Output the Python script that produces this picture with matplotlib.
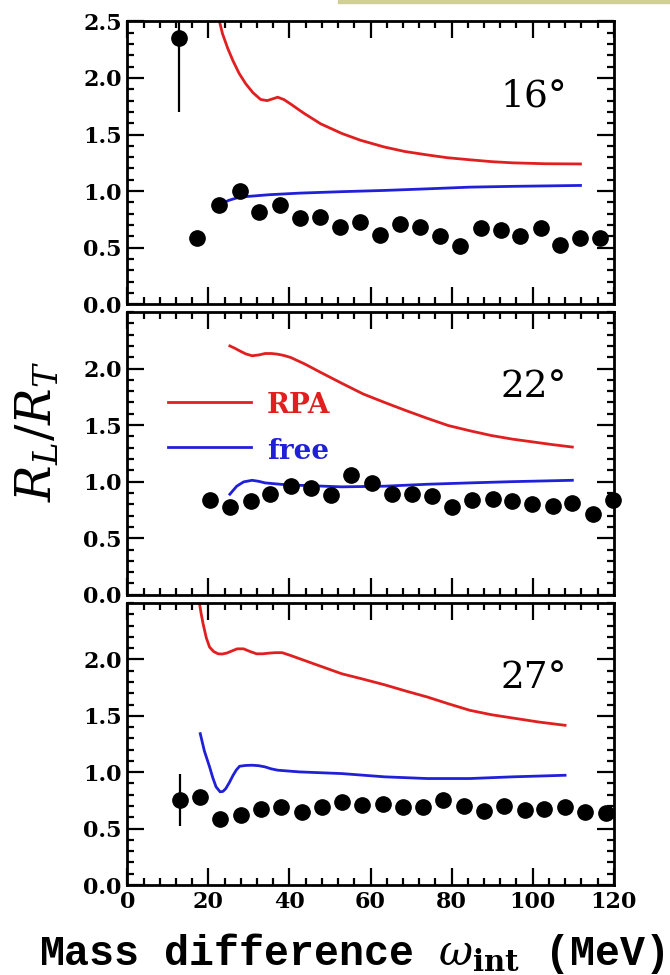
import matplotlib.pyplot as plt
import numpy as np
from matplotlib.ticker import MultipleLocator
from matplotlib.patches import Rectangle

# data points (omega in MeV, R_L/R_T)
x16 = [12.7, 17.3, 22.6, 27.7, 32.5, 37.6, 42.6, 47.5, 52.5, 57.4, 62.4, 67.3,
       72.3, 77.1, 82.0, 87.2, 92.1, 96.9, 102.0, 106.8, 111.7, 116.6]
y16 = [2.35, 0.585, 0.874, 1.00, 0.815, 0.877, 0.762, 0.771, 0.683, 0.727, 0.615, 0.712,
       0.683, 0.60, 0.512, 0.677, 0.653, 0.603, 0.677, 0.527, 0.589, 0.589]
err16 = [0.65] + [0] * 21

x22 = [20.3, 25.3, 30.4, 35.2, 40.3, 45.3, 50.3, 55.2, 60.3, 65.3, 70.3, 75.2,
       80.1, 85.1, 90.1, 95.0, 99.9, 105.0, 109.8, 114.8, 119.8]
y22 = [0.836, 0.772, 0.827, 0.889, 0.96, 0.948, 0.886, 1.056, 0.992, 0.895, 0.889, 0.871,
       0.778, 0.842, 0.851, 0.827, 0.801, 0.786, 0.813, 0.710, 0.836]

x27 = [12.9, 18.0, 22.9, 28.0, 32.9, 38.0, 43.0, 48.1, 52.9, 58.0, 63.0, 67.9,
       72.9, 78.0, 83.0, 88.0, 92.9, 98.0, 102.9, 108.0, 112.9, 118.0]
y27 = [0.752, 0.782, 0.581, 0.625, 0.673, 0.693, 0.649, 0.693, 0.732, 0.708, 0.717, 0.693,
       0.693, 0.758, 0.699, 0.658, 0.699, 0.664, 0.678, 0.693, 0.649, 0.640]
err27 = [0.23] + [0] * 21

# RPA curves
rpa16_x = [22.6, 23.5, 24.8, 26.1, 27.6, 29.2, 31.0, 32.9, 34.5, 35.8, 37.1, 38.6, 40.3, 43.5,
           47.7, 52.9, 57.5, 63.4, 68.5, 74.0, 79.0, 84.5, 90.0, 95.0, 103.0, 111.8]
rpa16_y = [2.52, 2.39, 2.26, 2.15, 2.04, 1.95, 1.87, 1.81, 1.80, 1.815, 1.83, 1.81, 1.77, 1.69,
           1.595, 1.51, 1.45, 1.39, 1.35, 1.32, 1.295, 1.277, 1.26, 1.25, 1.242, 1.24]
rpa22_x = [25.3, 26.5, 27.7, 29.2, 30.8, 32.4, 34.0, 35.6, 37.1, 38.7, 40.3, 43.8, 47.7, 52.9,
           58.2, 63.5, 68.7, 74.0, 79.2, 84.5, 89.8, 95.0, 100.3, 105.0, 109.8]
rpa22_y = [2.20, 2.18, 2.157, 2.13, 2.113, 2.12, 2.133, 2.133, 2.127, 2.115, 2.098, 2.04, 1.966,
           1.87, 1.775, 1.70, 1.629, 1.56, 1.496, 1.45, 1.408, 1.376, 1.35, 1.327, 1.306]
rpa27_x = [17.7, 18.2, 18.7, 19.5, 20.3, 21.3, 22.4, 23.4, 24.5, 25.8, 27.1, 28.7, 30.3, 31.9,
           33.4, 35.0, 36.6, 38.2, 40.3, 46.5, 52.9, 58.2, 63.4, 68.7, 74.0, 79.2, 84.5, 89.8,
           95.0, 101.5, 108.0]
rpa27_y = [2.52, 2.41, 2.316, 2.19, 2.109, 2.07, 2.05, 2.048, 2.056, 2.075, 2.094, 2.094, 2.07,
           2.05, 2.05, 2.056, 2.06, 2.06, 2.035, 1.955, 1.873, 1.825, 1.776, 1.72, 1.667, 1.607,
           1.549, 1.51, 1.481, 1.445, 1.416]

# free curves
free16_x = [22.6, 25.0, 27.7, 35.0, 42.4, 52.9, 63.5, 74.0, 84.5, 95.0, 111.8]
free16_y = [0.874, 0.918, 0.947, 0.968, 0.982, 0.995, 1.006, 1.02, 1.035, 1.042, 1.05]
free22_x = [25.3, 27.0, 28.7, 30.8, 32.4, 34.0, 38.0, 42.4, 52.9, 63.5, 74.0, 84.5, 95.0, 109.8]
free22_y = [0.889, 0.96, 0.998, 1.012, 1.003, 0.989, 0.976, 0.968, 0.954, 0.96, 0.977, 0.989,
            1.0, 1.012]
free27_x = [18.0, 19.0, 20.3, 21.1, 21.9, 22.9, 23.6, 24.3, 25.2, 26.1, 26.9, 27.7, 29.2, 30.8,
            32.4, 34.0, 35.5, 37.1, 42.4, 52.9, 63.5, 74.0, 84.5, 95.0, 108.0]
free27_y = [1.342, 1.19, 1.047, 0.95, 0.870, 0.826, 0.83, 0.855, 0.91, 0.973, 1.02, 1.053, 1.06,
            1.062, 1.058, 1.047, 1.03, 1.018, 1.003, 0.988, 0.959, 0.944, 0.944, 0.959, 0.973]

angles = ['16°', '22°', '27°']

red = '#e02020'
blue = '#2020d8'
serif = 'DejaVu Serif'

fig = plt.figure(figsize=(6.7, 9.75), dpi=100)
fig.patches.append(Rectangle((0.505, 0.997), 0.495, 0.003, transform=fig.transFigure,
                             color='#cfcf96', zorder=0))

boxes = [(0.688, 0.978), (0.390, 0.680), (0.0923, 0.3815)]
left, right = 0.19, 0.916

panels = [
    (x16, y16, err16, rpa16_x, rpa16_y, free16_x, free16_y),
    (x22, y22, None, rpa22_x, rpa22_y, free22_x, free22_y),
    (x27, y27, err27, rpa27_x, rpa27_y, free27_x, free27_y),
]

axes = []
for i, (b, t) in enumerate(boxes):
    ax = fig.add_axes([left, b, right - left, t - b])
    axes.append(ax)
    px, py, perr, rx, ry, fx, fy = panels[i]
    ax.plot(rx, ry, color=red, lw=2, zorder=2, solid_joinstyle='round')
    ax.plot(fx, fy, color=blue, lw=2, zorder=2, solid_joinstyle='round')
    if perr is not None:
        ax.errorbar(px[:1], py[:1], yerr=perr[:1], fmt='none', ecolor='black', elinewidth=1.6,
                    capsize=0, zorder=3)
    ax.plot(px, py, 'o', color='black', ms=11, zorder=3, clip_on=False)

    ax.set_xlim(0, 120)
    ax.set_ylim(0, 2.5)
    ax.xaxis.set_major_locator(MultipleLocator(20))
    ax.xaxis.set_minor_locator(MultipleLocator(4))
    ax.yaxis.set_minor_locator(MultipleLocator(0.1))
    ax.tick_params(which='both', direction='in', top=True, right=True, width=1.6)
    ax.tick_params(which='major', length=12)
    ax.tick_params(which='minor', length=5)
    ax.tick_params(pad=4)
    for s in ax.spines.values():
        s.set_linewidth(2)
    if i == 0:
        yt = [0, 0.5, 1.0, 1.5, 2.0, 2.5]
    else:
        yt = [0, 0.5, 1.0, 1.5, 2.0]
    ax.set_yticks(yt)
    ax.set_ylim(0, 2.5)
    ax.set_yticklabels([f'{v:.1f}' for v in yt], fontfamily=serif, fontweight='bold',
                       fontsize=16)
    if i < 2:
        ax.set_xticklabels([])
    else:
        ax.set_xticklabels([f'{int(v)}' for v in ax.get_xticks()], fontfamily=serif,
                           fontweight='bold', fontsize=16)
    ax.text(0.835, 0.735, angles[i], transform=ax.transAxes, ha='center', va='center',
            fontsize=27, fontfamily=serif)

# legend in middle panel
ax2 = axes[1]
ax2.plot([10, 30.5], [1.70, 1.70], color=red, lw=2)
ax2.plot([10, 30.5], [1.305, 1.305], color=blue, lw=2)
ax2.text(34.5, 1.675, 'RPA', color=red, fontsize=20, fontweight='bold', fontfamily=serif,
         va='center')
ax2.text(34.5, 1.265, 'free', color=blue, fontsize=20, fontweight='bold', fontfamily=serif,
         va='center')

plt.rcParams['mathtext.fontset'] = 'dejavuserif'
fig.text(0.056, 0.557, r'$R_L/R_T$', rotation=90, ha='center', va='center', fontsize=35)
fig.text(0.058, 0.022, r'Mass difference $\omega_{\mathbf{int}}$ (MeV)', ha='left', va='center',
         fontsize=30, fontfamily='Liberation Mono', fontweight='bold')

fig.savefig('out.png', dpi=100)
